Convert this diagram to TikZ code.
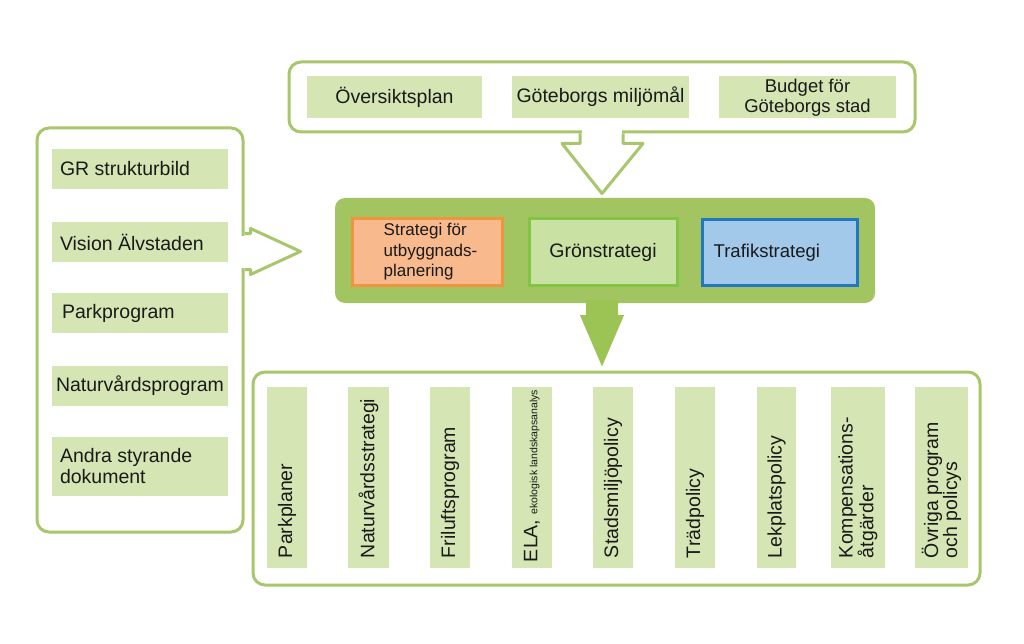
\documentclass[tikz,border=0pt]{standalone}
\usepackage{fontspec}
\setmainfont{Liberation Sans}
\usetikzlibrary{calc}
\definecolor{outl}{HTML}{A8C66B}
\definecolor{itemfill}{HTML}{D5E6B4}
\definecolor{midfill}{HTML}{A2C562}
\definecolor{arrowfill}{HTML}{9CC455}
\definecolor{orfill}{HTML}{F8B98C}
\definecolor{ordraw}{HTML}{F0943F}
\definecolor{grfill}{HTML}{C9E2A4}
\definecolor{grdraw}{HTML}{82C444}
\definecolor{blfill}{HTML}{A2C8EA}
\definecolor{bldraw}{HTML}{2278C0}
\definecolor{ink}{HTML}{1A1A1A}
\tikzset{
  outerbox/.style={draw=outl, line width=3pt, fill=white, rounded corners=12pt, inner sep=0pt},
  item/.style={fill=itemfill, draw=none, inner sep=0pt},
  txt/.style={font=\fontsize{19.5}{21}\selectfont, text=ink, inner sep=0pt},
  coltxt/.style={txt, rotate=90, anchor=west, align=left},
  col/.style={item, minimum height=181pt},
  leftitem/.style={item, minimum width=176pt, minimum height=40pt},
  topitem/.style={item, txt, minimum width=177pt, minimum height=42pt, align=center},
  strat/.style={line width=3pt, minimum height=66pt, inner sep=0pt},
  outarrow/.style={draw=outl, line width=3pt, line join=round, fill=white}
}
\begin{document}
\begin{tikzpicture}[x=1pt,y=-1pt]
\path[use as bounding box, fill=white] (0,0) rectangle (1024,644);

% ---- top group
\node[outerbox, minimum width=626pt, minimum height=70pt] (top) at (602,97) {};
\node[topitem, minimum width=175pt] (o1) at (394.5,97) {Översiktsplan};
\node[topitem] (o2) at (600.5,97) {Göteborgs miljömål};
\node[topitem, font=\fontsize{18.5}{19.5}\selectfont] (o3) at (807.5,97.5) {Budget för\\Göteborgs stad};
% outline arrow from top box
\fill[white] ($(top.south)+(-20.5,-4)$) rectangle ($(top.south)+(19.5,4)$);
\draw[outarrow] ($(top.south)+(-22,0)$) -- ($(top.south)+(-22,10)$) -- ($(top.south)+(-40,10)$)
  -- ($(top.south)+(0,60)$) -- ($(top.south)+(41,10)$) -- ($(top.south)+(21,10)$) -- ($(top.south)+(21,0)$);

% ---- left group
\node[outerbox, minimum width=206pt, minimum height=404pt] (left) at (140,330) {};
\node[leftitem] (l1) at (140,169) {};
\node[leftitem] (l2) at (140,242) {};
\node[leftitem] (l3) at (140,313) {};
\node[leftitem] (l4) at (140,386) {};
\node[leftitem, minimum height=59pt] (l5) at (140,466.5) {};
\node[txt, anchor=west] (lt1) at ($(l1.west)+(8,0)$) {GR strukturbild};
\node[txt, anchor=west] (lt2) at ($(l2.west)+(8,0)$) {Vision Älvstaden};
\node[txt, anchor=west] (lt3) at ($(l3.west)+(10,0)$) {Parkprogram};
\node[txt, anchor=west] (lt4) at ($(l4.west)+(4,0)$) {Naturvårdsprogram};
\node[txt, anchor=west, align=left] (lt5) at ($(l5.west)+(8,0)$) {Andra styrande\\dokument};
% outline arrow from left box
\fill[white] ($(left.north east)+(-4,109)$) rectangle ($(left.north east)+(4,141)$);
\draw[outarrow] ($(left.north east)+(0,107)$) -- ($(left.north east)+(6,107)$) -- ($(left.north east)+(6,102)$)
  -- ($(left.north east)+(56,125)$) -- ($(left.north east)+(6,148)$) -- ($(left.north east)+(6,143)$) -- ($(left.north east)+(0,143)$);

% ---- middle group
\node[fill=midfill, draw=none, rounded corners=10pt, minimum width=540pt, minimum height=105pt] (mid) at (605,250.5) {};
\node[strat, fill=orfill, draw=ordraw, minimum width=150pt] (s1) at (427,252) {};
\node[txt, anchor=west, align=left, font=\fontsize{17}{20.5}\selectfont] (st1) at ($(s1.west)+(33,0)$) {Strategi för\\utbyggnads-\\planering};
\node[strat, fill=grfill, draw=grdraw, minimum width=148pt, txt] (s2) at (603,252) {Grönstrategi};
\node[strat, fill=blfill, draw=bldraw, minimum width=155pt] (s3) at (779.5,252.5) {};
\node[txt, anchor=west, font=\fontsize{18.5}{20}\selectfont] (st3) at ($(s3.west)+(13,0)$) {Trafikstrategi};

% ---- bottom group
\node[outerbox, minimum width=727pt, minimum height=213pt] (bot) at (616.5,478.5) {};
% filled arrow from middle box to bottom box
\fill[arrowfill] ($(mid.south)+(-19,-3)$) -- ($(mid.south)+(-19,12)$) -- ($(mid.south)+(-25,12)$)
  -- ($(bot.north)+(-14.5,-4)$) -- ($(mid.south)+(19,12)$) -- ($(mid.south)+(13,12)$) -- ($(mid.south)+(13,-3)$) -- cycle;

\node[col, minimum width=40pt] (c1) at (287,477.5) {};
\node[col, minimum width=41pt] (c2) at (368.5,477.5) {};
\node[col, minimum width=40pt] (c3) at (450,477.5) {};
\node[col, minimum width=40pt] (c4) at (532,477.5) {};
\node[col, minimum width=40pt] (c5) at (613,477.5) {};
\node[col, minimum width=40pt] (c6) at (695,477.5) {};
\node[col, minimum width=39pt] (c7) at (776.5,477.5) {};
\node[col, minimum width=54pt] (c8) at (858,477.5) {};
\node[col, minimum width=53pt] (c9) at (941.5,477.5) {};
\node[coltxt] (ct1) at ($(c1.south)+(0,-10)$) {Parkplaner};
\node[coltxt] (ct2) at ($(c2.south)+(0,-10)$) {Naturvårdsstrategi};
\node[coltxt] (ct3) at ($(c3.south)+(0,-10)$) {Friluftsprogram};
\node[coltxt] (ct4) at ($(c4.south)+(0,-6)$) {ELA, {\fontsize{10.5}{11}\selectfont ekologisk landskapsanalys}};
\node[coltxt] (ct5) at ($(c5.south)+(0,-10)$) {Stadsmiljöpolicy};
\node[coltxt] (ct6) at ($(c6.south)+(0,-10)$) {Trädpolicy};
\node[coltxt] (ct7) at ($(c7.south)+(0,-10)$) {Lekplatspolicy};
\node[coltxt, font=\fontsize{19.5}{18}\selectfont] (ct8) at ($(c8.south)+(0,-10)$) {Kompensations-\\åtgärder};
\node[coltxt, font=\fontsize{19.5}{18}\selectfont] (ct9) at ($(c9.south)+(0,-10)$) {Övriga program\\och policys};
\end{tikzpicture}
\end{document}
